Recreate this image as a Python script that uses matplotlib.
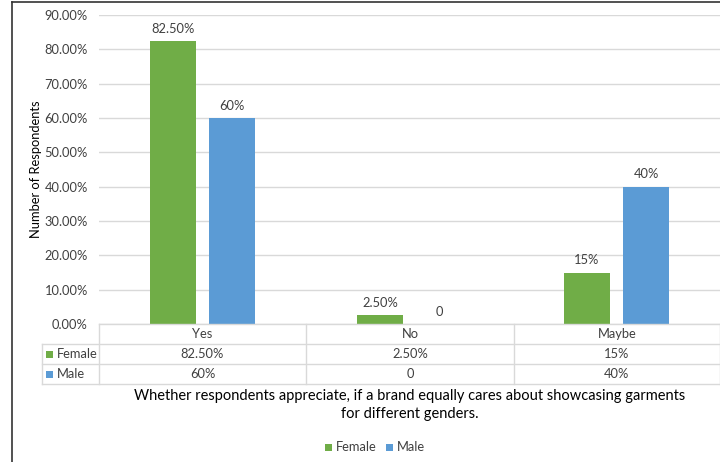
import matplotlib.pyplot as plt
from matplotlib.lines import Line2D
from matplotlib.patches import Rectangle
import numpy as np

categories = ["Yes", "No", "Maybe"]
female = [82.5, 2.5, 15]
male = [60, 0, 40]
female_labels = ["82.50%", "2.50%", "15%"]
male_labels = ["60%", "0", "40%"]
yticks = [0, 10, 20, 30, 40, 50, 60, 70, 80, 90]

GREEN = "#70AD47"
BLUE = "#5B9BD5"
GRID = "#d9d9d9"
TXT = "#404040"

plt.rcParams["font.family"] = ["Lato", "DejaVu Sans"]

W, H = 720, 462
fig = plt.figure(figsize=(W / 100, H / 100), dpi=100)


def fx(px):
    return px / W


def fy(py):
    return 1 - py / H


def swatch(px, py, color):
    # small square key, px/py = top-left corner in pixels
    fig.add_artist(Rectangle((fx(px), fy(py + 7)), 7 / W, 7 / H,
                             facecolor=color, edgecolor="none",
                             transform=fig.transFigure))


# plot area
ax = fig.add_axes([fx(99), fy(324), fx(720) - fx(99), fy(15) - fy(324)])
x = np.arange(len(categories))
bw = 0.223
off = 0.143
ax.bar(x - off, female, bw, color=GREEN, zorder=3)
ax.bar(x + off, male, bw, color=BLUE, zorder=3)
for i in range(len(categories)):
    ax.text(x[i] - off, female[i] + 1.8, female_labels[i], ha="center", va="bottom",
            fontsize=9.3, color=TXT)
    ax.text(x[i] + off, male[i] + 1.8, male_labels[i], ha="center", va="bottom",
            fontsize=9.3, color=TXT)

ax.set_xlim(-0.5, 2.5)
ax.set_ylim(0, 90)
ax.set_yticks(yticks)
ax.set_yticklabels(["%.2f%%" % t for t in yticks], fontsize=9.3, color=TXT)
ax.tick_params(axis="y", length=0, pad=8)
ax.set_xticks([])
ax.grid(axis="y", color=GRID, linewidth=1, zorder=0)
for s in ax.spines.values():
    s.set_visible(False)
ax.set_ylabel("Number of Respondents", fontsize=9.3, color="#000000")
ax.yaxis.set_label_coords(-0.092, 0.5)

# data table under the axis
col_edges = [99, 306, 514, 720]
row_edges = [324, 344, 364, 384]
line_kw = dict(color=GRID, linewidth=1)
fig.add_artist(Line2D([fx(99), fx(720)], [fy(324), fy(324)], **line_kw))
for r in row_edges[1:]:
    fig.add_artist(Line2D([fx(42), fx(720)], [fy(r), fy(r)], **line_kw))
fig.add_artist(Line2D([fx(42), fx(42)], [fy(344), fy(384)], **line_kw))
for c in col_edges:
    fig.add_artist(Line2D([fx(c), fx(c)], [fy(324), fy(384)], **line_kw))

for i, cat in enumerate(categories):
    cx = fx((col_edges[i] + col_edges[i + 1]) / 2)
    fig.text(cx, fy(334), cat, ha="center", va="center", fontsize=9.3, color=TXT)
    fig.text(cx, fy(354), female_labels[i], ha="center", va="center", fontsize=9.3, color=TXT)
    fig.text(cx, fy(374), male_labels[i], ha="center", va="center", fontsize=9.3, color=TXT)

for ry, name, col in [(354, "Female", GREEN), (374, "Male", BLUE)]:
    swatch(46, ry - 3.5, col)
    fig.text(fx(57), fy(ry), name, ha="left", va="center", fontsize=9.3, color=TXT)

fig.text(fx(410), fy(405), "Whether respondents appreciate, if a brand equally cares about showcasing garments\nfor different genders.",
         ha="center", va="center", fontsize=10.5, color="#000000", linespacing=1.4)

# legend
swatch(325, 443.5, GREEN)
fig.text(fx(336), fy(447), "Female", ha="left", va="center", fontsize=9.3, color=TXT)
swatch(386, 443.5, BLUE)
fig.text(fx(397), fy(447), "Male", ha="left", va="center", fontsize=9.3, color=TXT)

# outer frame
fig.add_artist(Line2D([fx(12), fx(720)], [fy(2), fy(2)], color="#333333", linewidth=1.2))
fig.add_artist(Line2D([fx(12), fx(12)], [fy(2), fy(462)], color="#333333", linewidth=1.2))

fig.savefig("out.png", dpi=100)
